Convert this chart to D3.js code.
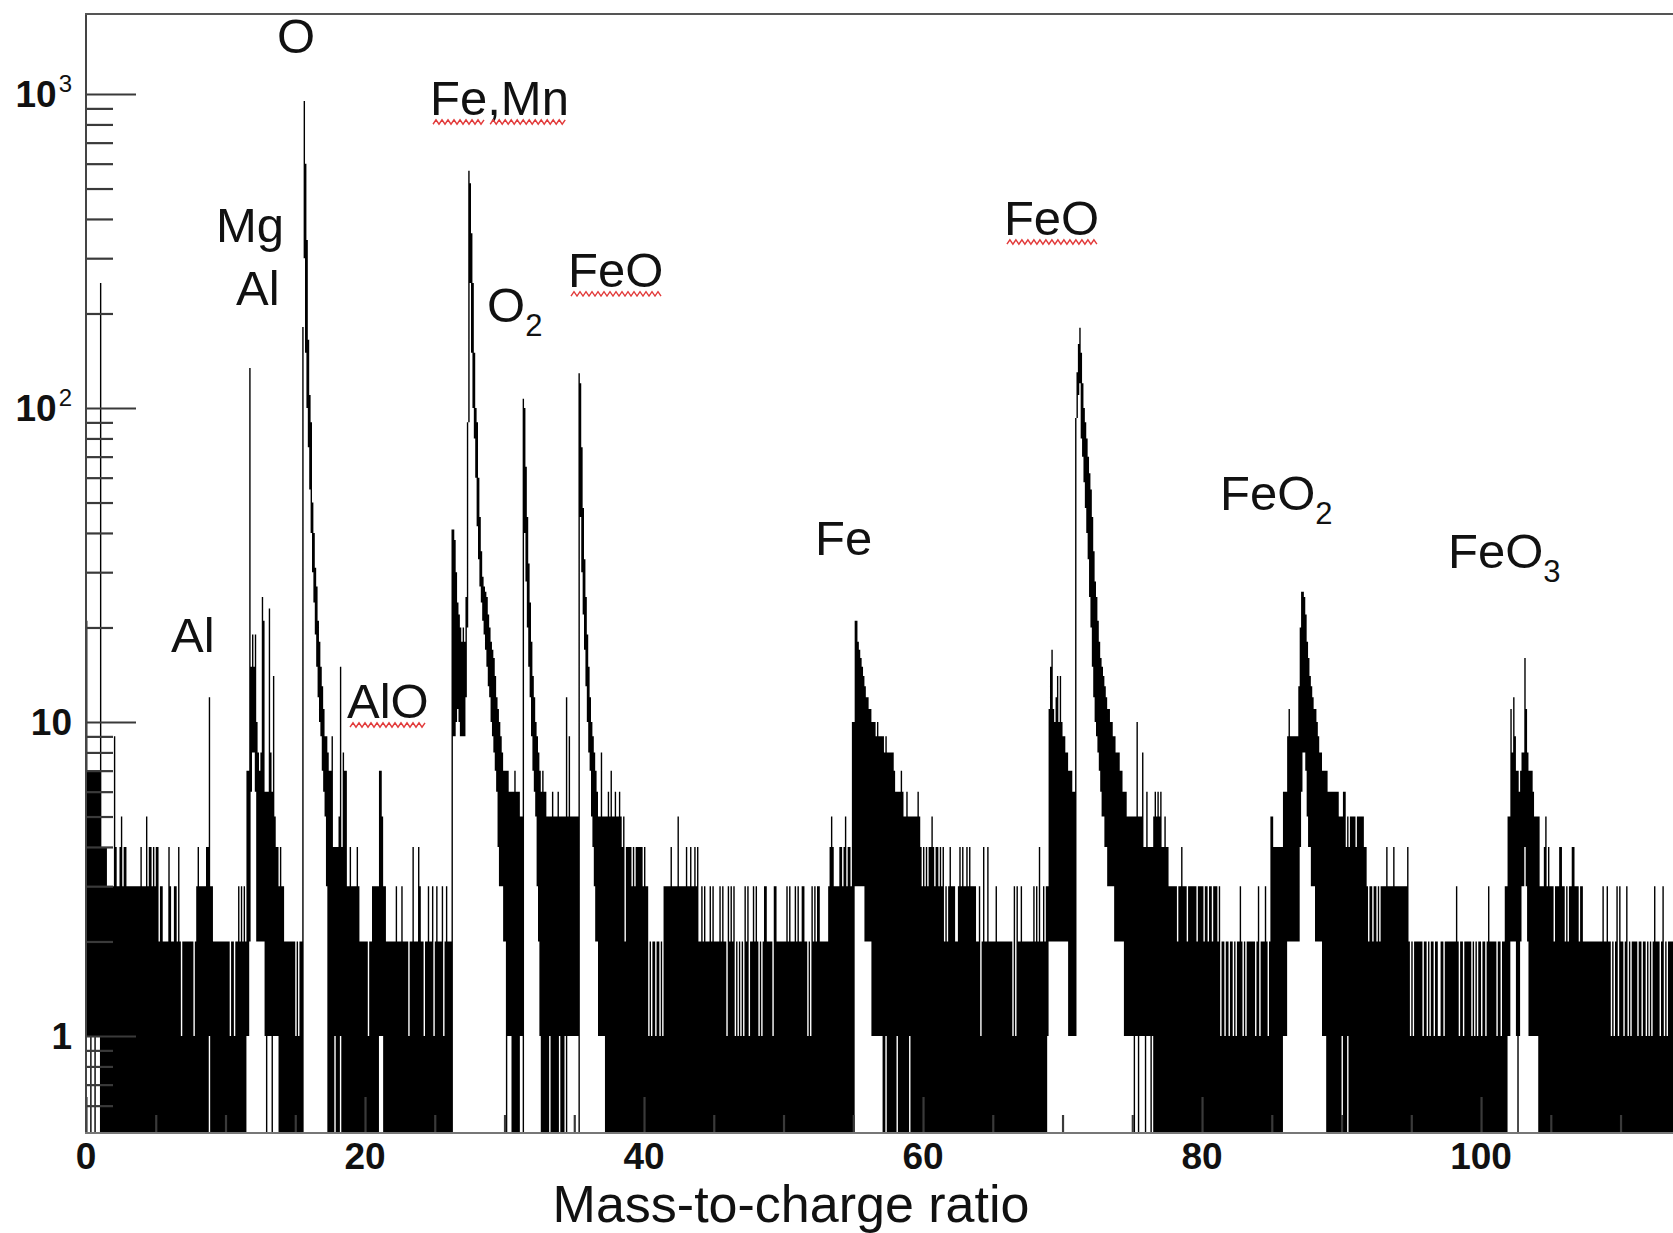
<!DOCTYPE html>
<html><head><meta charset="utf-8">
<script src="https://cdn.jsdelivr.net/npm/d3@7"></script>
<style>
html,body{margin:0;padding:0;background:#fff;}
svg{display:block;}
text{font-family:"Liberation Sans",Arial,Helvetica,sans-serif;fill:#111;}
</style></head><body>
<svg id="chart" width="1673" height="1233"></svg>
<script>
// ---------------- DATA ----------------
const BIN = 0.1; // histogram bin width (Da)
// background envelope: [mz from, mz to, max count] (bins that also drop to zero)
const bgRuns = [
 [0.0,0.1,21],[0.1,1.1,7],[1.1,1.5,4],[1.5,5.2,3],[5.2,7.9,2],[7.9,9.1,3],[9.1,11.5,2],
 [11.5,13.8,5],[13.8,14.2,3],[14.2,15.5,2],
 [17.4,17.7,7],[17.7,18.4,4],[18.4,18.7,7],[18.7,19.6,3],[19.6,20.5,2],[20.5,21.5,3],[21.5,26.2,2],
 [30.5,31.0,6],[32.6,33.0,6],[33.0,35.2,5],
 [37.2,38.4,5],[38.4,40.1,4],[40.1,40.3,3],[40.3,41.4,2],[41.4,43.9,3],[43.9,53.2,2],[53.2,54.9,3],
 [57.7,57.9,8],[57.9,58.0,7],[58.0,58.6,6],[58.6,59.8,5],[59.8,61.5,4],[61.5,63.9,3],[63.9,68.9,2],
 [75.0,75.8,5],[75.8,76.5,4],[76.5,77.0,5],[77.0,77.6,4],[77.6,81.0,3],[81.0,85.0,2],[85.0,85.8,4],
 [85.8,86.1,6],[86.1,86.9,9],
 [89.4,89.8,6],[89.8,91.6,5],[91.6,91.8,4],[91.8,94.7,3],[94.7,101.7,2],[104.2,107.3,3],[107.3,113.8,2]
];
// minimum count in columns that do not drop to zero: [mz from, mz to, min count]
const floorRuns = [
 [0.0,1.0,1],[0.3,0.4,0],[0.6,0.7,0],[8.8,8.9,1],
 [17.8,17.9,1],[18.2,18.3,1],
 [33.2,33.3,1],[33.9,34.0,1],[34.3,34.4,1],[34.5,35.2,1],
 [58.1,58.2,1],[59.0,59.1,1],
 [75.0,76.5,1],[75.1,75.2,0],[75.4,75.5,0],[75.9,76.0,0],[76.3,76.4,0],
 [85.8,86.1,1],[86.1,86.9,2],
 [90.0,90.1,1],[90.4,90.5,1]
];
// single bins above the envelope: [mz, count]
const spikes = [
 [2.0,9],[2.1,4],[2.4,4],[2.5,5],[2.7,4],[2.8,4],[3.9,4],[4.3,5],[4.5,4],[4.6,4],[4.8,4],[5.0,4],[5.1,4],
 [5.3,3],[5.4,3],[5.9,4],[6.0,3],[6.3,3],[6.4,3],[6.6,4],[8.0,4],[8.6,4],[8.7,4],[8.8,12],[10.9,3],[11.1,3],[11.3,3],
 [13.9,4],
 [17.6,9],[18.1,5],[18.2,15],[18.4,8],[18.9,4],[19.4,4],[22.2,3],[22.6,3],[23.4,4],[23.8,4],[23.9,3],
 [24.5,3],[24.8,3],[25.1,3],[25.5,3],[25.8,3],
 [30.7,7],[32.7,7],[33.4,6],[33.8,6],[34.4,12],[34.6,9],
 [37.4,6],[37.6,7],[37.9,6],[38.2,6],[38.5,5],
 [41.9,4],[42.4,5],[43.0,4],[43.3,4],[43.6,4],[43.8,4],[44.1,3],[44.3,3],[44.7,3],[44.9,3],[45.4,3],[45.6,3],
 [46.0,3],[46.2,3],[46.4,3],[47.2,3],[47.4,3],[47.8,3],[48.0,3],[48.6,3],[48.7,3],[49.3,3],[49.4,3],[50.2,3],
 [50.4,3],[50.8,3],[51.0,3],[51.3,3],[51.4,3],[52.0,3],[52.2,3],[52.4,3],[52.5,3],[53.3,4],[53.4,5],[53.5,4],
 [54.0,4],[54.1,4],[54.3,4],[54.4,5],[54.6,4],[54.7,4],
 [58.4,7],[58.8,6],[59.6,6],[60.6,5],[61.9,4],[62.6,4],[62.8,4],[63.1,4],[63.3,4],[64.0,3],[64.3,4],[64.6,4],
 [65.2,3],[66.5,3],[66.7,3],[67.0,3],[67.9,3],[68.1,3],[68.3,4],[68.6,3],[68.8,3],
 [75.3,10],[75.7,8],[76.0,6],[76.6,6],[76.8,6],
 [77.0,6],[77.3,5],[78.5,4],[81.0,3],[81.2,3],[82.7,3],[84.0,3],[84.5,3],[84.9,5],[85.0,5],[86.2,11],
 [90.1,6],[90.2,6],[93.2,4],[93.7,4],[94.7,4],
 [98.2,3],[100.5,3],[104.5,4],[104.6,5],[104.8,4],[105.6,4],[105.7,4],[106.5,4],[106.6,4],
 [108.7,3],[109.0,3],[109.7,3],[109.9,3],[110.4,3],[112.4,3],[113.0,3]
];
// single bins below the envelope: [mz, count]
const notches = [
 [6.8,1],[7.7,1],[10.3,1],[10.6,1],[15.0,1],[15.2,1],
 [20.2,1],[23.1,1],[24.2,1],[24.9,1],[25.6,1],
 [38.6,2],[39.1,3],[39.3,3],[39.9,3],[40.3,1],[40.5,1],[40.8,1],[41.1,1],[41.3,1],[45.9,1],[46.5,1],[46.7,1],
 [46.9,1],[47.1,1],[47.5,1],[48.2,1],[48.4,1],[49.2,1],[51.7,1],[51.9,1],
 [59.9,3],[60.1,3],[60.3,3],[60.8,3],[61.1,3],[61.3,3],[61.5,2],[61.7,2],[62.3,2],[62.4,2],[63.8,2],
 [64.1,1],[66.4,1],[66.6,1],
 [78.2,2],[78.9,2],[79.6,2],[80.1,2],[80.4,2],[80.7,2],[81.3,1],[81.6,1],[81.9,1],[82.2,1],[82.4,1],
 [82.9,1],[83.1,1],[83.8,1],[84.1,1],[84.7,1],
 [90.3,4],[90.5,4],[91.0,4],[91.9,2],[92.2,2],[92.5,2],[92.7,2],[94.9,1],[95.1,1],
 [95.8,1],[96.1,1],[96.3,1],[96.6,1],[96.9,1],[97.0,1],[97.3,1],[98.4,1],[98.7,1],[99.3,1],[99.5,1],
 [99.7,1],[100.0,1],[100.3,1],[101.1,1],[101.4,1],
 [105.2,2],[106.0,2],[106.2,2],[107.0,2],
 [109.3,1],[109.5,1],[109.8,1],[110.2,1],[110.5,1],[110.7,1],[111.2,1],[111.5,1],[111.8,1],[112.0,1],
 [112.2,1],[112.8,1],[113.1,1],[113.3,1]
];
// peak regions, bin by bin: [mz, min count, max count]
const peakBins = [
 [1.0,0,250],
 // Mg / Al
 [11.5,1,7],[11.6,1,7],[11.7,2,134],[11.8,6,15],[11.9,8,19],[12.0,8,15],[12.1,6,19],[12.2,2,10],[12.3,2,8],
 [12.4,2,7],[12.5,2,8],[12.6,2,25],[12.7,2,21],[12.8,1,6],[12.9,0,6],[13.0,1,6],[13.1,1,23],[13.2,1,8],
 [13.3,0,6],[13.4,1,14],[13.5,1,5],[13.6,1,4],[13.7,1,4],
 // O
 [15.5,0,181],[15.6,300,950],[15.7,150,600],[15.8,100,343],[15.9,75,165],[16.0,55,110],[16.1,40,90],
 [16.2,30,50],[16.3,24,40],[16.4,19,31],[16.5,15,27],[16.6,12,21],[16.7,10,18],[16.8,9,15],[16.9,7,13],
 [17.0,6,11],[17.1,5,9],[17.2,3,9],[17.3,0,8],
 // AlO
 [21.0,1,7],[21.1,1,7],[21.2,1,5],
 // Fe, Mn
 [26.2,0,41],[26.3,9,41],[26.4,9,38],[26.5,10,30],[26.6,11,24],[26.7,10,22],[26.8,9,20],[26.9,9,18],
 [27.0,9,20],[27.1,9,18],[27.2,12,25],[27.3,20,90],[27.4,90,570],[27.5,250,520],[27.6,150,360],
 [27.7,100,250],[27.8,80,150],[27.9,60,100],[28.0,42,90],[28.1,33,60],[28.2,27,45],[28.3,24,35],
 [28.4,21,29],[28.5,19,27],[28.6,17,26],[28.7,15,25],[28.8,13,22],[28.9,12,20],[29.0,10,18],[29.1,9,17],
 [29.2,8,16],[29.3,7,14],[29.4,6,12],[29.5,4,11],[29.6,3,10],[29.7,3,9],[29.8,3,8],[29.9,2,7],
 [30.0,2,7],[30.1,0,7],[30.2,1,7],[30.3,1,6],[30.4,1,6],
 // O2
 [31.0,0,6],[31.1,1,5],[31.2,1,5],[31.3,0,107],[31.4,40,100],[31.5,28,65],[31.6,20,45],[31.7,15,32],
 [31.8,12,24],[31.9,9,18],[32.0,7,14],[32.1,6,12],[32.2,5,10],[32.3,3,9],[32.4,2,8],[32.5,1,7],
 // FeO (2+)
 [35.2,1,5],[35.3,0,129],[35.4,45,120],[35.5,30,75],[35.6,22,48],[35.7,17,33],[35.8,13,25],[35.9,10,19],
 [36.0,8,15],[36.1,7,12],[36.2,5,10],[36.3,4,9],[36.4,3,8],[36.5,2,7],[36.6,2,6],[36.7,1,5],[36.8,1,5],
 [36.9,1,8],[37.0,1,5],[37.1,1,5],
 // Fe+
 [54.9,0,10],[55.0,0,10],[55.1,3,21],[55.2,3,21],[55.3,3,18],[55.4,3,17],[55.5,3,16],[55.6,3,15],
 [55.7,3,14],[55.8,2,13],[55.9,2,12],[56.0,2,12],[56.1,2,11],[56.2,2,11],[56.3,1,10],[56.4,1,10],
 [56.5,1,10],[56.6,1,9],[56.7,1,10],[56.8,1,9],[56.9,1,9],[57.0,1,9],[57.1,0,9],[57.2,0,8],[57.3,1,9],
 [57.4,0,8],[57.5,0,8],[57.6,0,8],
 // FeO+
 [68.9,1,3],[69.0,2,11],[69.1,2,15],[69.2,2,17],[69.3,2,11],[69.4,2,10],[69.5,2,12],[69.6,2,14],
 [69.7,2,10],[69.8,2,14],[69.9,2,10],[70.0,2,9],[70.1,2,9],[70.2,2,8],[70.3,2,8],[70.4,1,7],[70.5,1,7],
 [70.6,1,7],[70.7,1,6],[70.8,1,6],[70.9,1,93],[71.0,93,130],[71.1,110,160],[71.2,120,180],[71.3,80,150],
 [71.4,70,120],[71.5,58,100],[71.6,48,90],[71.7,40,80],[71.8,33,70],[71.9,25,62],[72.0,20,55],
 [72.1,15,45],[72.2,12,35],[72.3,10,28],[72.4,9,25],[72.5,8,21],[72.6,7,18],[72.7,6,16],[72.8,5,15],
 [72.9,5,14],[73.0,4,13],[73.1,4,12],[73.2,3,11],[73.3,3,11],[73.4,3,10],[73.5,3,10],[73.6,3,9],
 [73.7,2,9],[73.8,2,8],[73.9,2,8],[74.0,2,8],[74.1,2,7],[74.2,2,7],[74.3,2,6],[74.4,1,6],[74.5,1,6],
 [74.6,1,5],[74.7,1,5],[74.8,1,5],[74.9,1,5],
 // FeO2+
 [86.9,2,13],[87.0,4,20],[87.1,6,26],[87.2,8,26],[87.3,8,25],[87.4,7,22],[87.5,5,18],[87.6,4,16],
 [87.7,4,14],[87.8,3,13],[87.9,3,12],[88.0,3,11],[88.1,2,11],[88.2,2,10],[88.3,2,9],[88.4,2,8],
 [88.5,2,8],[88.6,1,7],[88.7,1,7],[88.8,1,7],[88.9,0,7],[89.0,0,6],[89.1,0,6],[89.2,0,6],[89.3,0,6],
 // FeO3+
 [101.7,0,3],[101.8,0,3],[101.9,1,5],[102.0,1,5],[102.1,2,11],[102.2,2,8],[102.3,2,12],[102.4,2,9],
 [102.5,1,7],[102.6,0,7],[102.7,1,6],[102.8,2,7],[102.9,3,8],[103.0,3,8],[103.1,4,16],[103.2,3,11],
 [103.3,2,8],[103.4,1,7],[103.5,1,7],[103.6,1,7],[103.7,1,6],[103.8,1,5],[103.9,1,5],[104.0,1,5],
 [104.1,0,5]
];
// axis ticks and labels
const xTickValues = [0,20,40,60,80,100];
const xMinorTicks = [5,10,15,25,30,35,45,50,55,65,70,75,85,90,95,105,110];
const yMajorTicks = [1,10,100,1000];
const yMinorTicks = [0.6,0.7,0.8,0.9,2,3,4,5,6,7,8,9,20,30,40,50,60,70,80,90,200,300,400,500,600,700,800,900];
const yTickLabels = [[1,"1",""],[10,"10",""],[100,"10","2"],[1000,"10","3"]];
const xTitle = "Mass-to-charge ratio";
// peak annotations (positions in data units: m/z, counts)
const annotations = [
 {mz:13.69,count:1351,text:"O"},
 {mz:9.32,count:338,text:"Mg"},
 {mz:10.75,count:213,text:"Al"},
 {mz:6.09,count:16.7,text:"Al"},
 {mz:18.71,count:10.3,text:"AlO",squiggle:[[0,3]]},
 {mz:24.66,count:857,text:"Fe,Mn",squiggle:[[0,2],[2,3]]},
 {mz:28.75,count:188,text:"O",sub:"2"},
 {mz:34.55,count:243,text:"FeO",squiggle:[[0,3]]},
 {mz:52.26,count:34,text:"Fe"},
 {mz:65.8,count:355.6,text:"FeO",squiggle:[[0,3]]},
 {mz:81.29,count:47.3,text:"FeO",sub:"2"},
 {mz:97.63,count:30.9,text:"FeO",sub:"3"}
];

// ---------------- DRAWING ----------------
const svg = d3.select("#chart");
const L = 86, T = 14, B = 1133, R = 1673;
const x = d3.scaleLinear().domain([0,113.76]).range([L,R]);
const y = d3.scaleLog().domain([0.491,1798]).range([B,T]);

const nBins = Math.round(113.8/BIN);
const hi = new Array(nBins).fill(0), lo = new Array(nBins).fill(0);
const idx = m => Math.round(m/BIN);
bgRuns.forEach(([a,b,t]) => { for (let i=idx(a); i<idx(b); i++) hi[i]=t; });
floorRuns.forEach(([a,b,l]) => { for (let i=idx(a); i<idx(b); i++) lo[i]=l; });
notches.forEach(([m,t]) => { hi[idx(m)] = t; });
spikes.forEach(([m,t]) => { const i=idx(m); hi[i] = Math.max(hi[i], t); });
peakBins.forEach(([m,l,h]) => { const i=idx(m); hi[i]=h; lo[i]=l; });

svg.append("defs").append("clipPath").attr("id","plot")
  .append("rect").attr("x",L).attr("y",T).attr("width",R-L).attr("height",B-T);

let d = "";
for (let i=0; i<nBins;) {
  if (hi[i] <= 0 || lo[i] >= hi[i]) { i++; continue; }
  let j = i+1;
  while (j<nBins && hi[j]===hi[i] && lo[j]===lo[i]) j++;
  const x0 = x(i*BIN), x1 = x(j*BIN);
  const yt = y(hi[i]), yb = lo[i] > 0 ? y(lo[i]) : B;
  d += `M${x0.toFixed(2)},${yt.toFixed(2)}H${x1.toFixed(2)}V${yb.toFixed(2)}H${x0.toFixed(2)}Z`;
  i = j;
}
svg.append("path").attr("clip-path","url(#plot)").attr("d",d).attr("fill","#000");

// y axis ticks (inside, pointing right)
const tickCol = "#3a3a3a";
function styleAxis(g){ g.select(".domain").remove(); g.selectAll("line").attr("stroke",tickCol).attr("stroke-width",2.2); g.selectAll("text").remove(); }
svg.append("g").attr("transform",`translate(${L},0)`)
  .call(d3.axisRight(y).tickValues(yMajorTicks).tickSize(50).tickFormat("")).call(styleAxis);
svg.append("g").attr("transform",`translate(${L},0)`)
  .call(d3.axisRight(y).tickValues(yMinorTicks).tickSize(27).tickFormat("")).call(styleAxis);
// x axis ticks (inside, pointing up)
svg.append("g").attr("transform",`translate(0,${B})`)
  .call(d3.axisBottom(x).tickValues(xMinorTicks).tickSize(-18).tickFormat("")).call(styleAxis);
svg.append("g").attr("transform",`translate(0,${B})`)
  .call(d3.axisBottom(x).tickValues(xTickValues).tickSize(-36).tickFormat("")).call(styleAxis);

// frame
svg.append("line").attr("x1",L).attr("x2",L).attr("y1",T-1).attr("y2",B+1).attr("stroke","#444").attr("stroke-width",2);
svg.append("line").attr("x1",L-1).attr("x2",R).attr("y1",T).attr("y2",T).attr("stroke","#555").attr("stroke-width",2);
svg.append("line").attr("x1",L-1).attr("x2",R).attr("y1",B).attr("y2",B).attr("stroke","#777").attr("stroke-width",2);

// y tick labels
yTickLabels.forEach(([v,base,sup]) => {
  const t = svg.append("text").attr("x",72).attr("y",y(v)+13.3).attr("text-anchor","end")
    .style("font-weight","bold").style("font-size","37px");
  t.append("tspan").text(base);
  if (sup) t.append("tspan").attr("dy",-15).attr("dx",2).style("font-size","24px").style("font-weight","normal").text(sup);
});
// x tick labels
svg.append("g").selectAll("text").data(xTickValues).join("text")
  .attr("x",v=>x(v)).attr("y",1169).attr("text-anchor","middle")
  .style("font-weight","bold").style("font-size","37px").text(v=>v);
// x title
svg.append("text").attr("x",791).attr("y",1222).attr("text-anchor","middle")
  .style("font-size","52px").text(xTitle);

// annotations
const ag = svg.append("g");
annotations.forEach(a => {
  const tx = x(a.mz), ty = y(a.count);
  const t = ag.append("text").attr("x",tx).attr("y",ty).style("font-size","49px");
  t.append("tspan").text(a.text);
  if (a.sub) t.append("tspan").attr("dy",14).style("font-size","31px").text(a.sub);
  if (a.squiggle) {
    const node = t.node();
    a.squiggle.forEach(([s,n]) => {
      const x0 = tx + (s>0 ? node.getSubStringLength(0,s) : 0) + 3;
      const x1 = tx + node.getSubStringLength(0,s+n) - 2;
      const yb = ty + 7;
      let p = `M${x0},${yb+2.2}`; let k = 0;
      for (let xx=x0+3; xx<=x1; xx+=3) { k++; p += `L${xx.toFixed(1)},${(yb + (k%2 ? -2.2 : 2.2)).toFixed(1)}`; }
      ag.append("path").attr("d",p).attr("fill","none").attr("stroke","#e23b3b").attr("stroke-width",1.4);
    });
  }
});
</script>
</body></html>
